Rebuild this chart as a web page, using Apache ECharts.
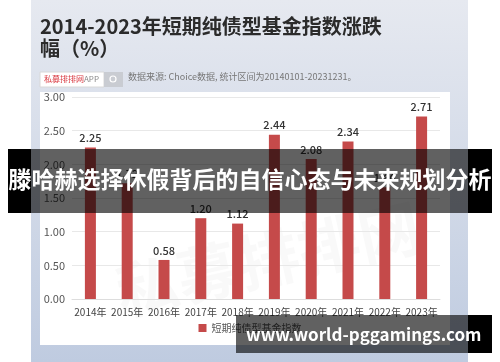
<!DOCTYPE html>
<html style="height: 100%">
<head>
<meta charset="utf-8">
</head>
<body style="width:500px;height:362px;margin:0;background:#fff">
<div id="container" style="width:500px;height:362px;"></div>
<script type="text/javascript" src="https://cdn.jsdelivr.net/npm/echarts@6/dist/echarts.min.js"></script>
<script type="text/javascript">
var years = ['2014年','2015年','2016年','2017年','2018年','2019年','2020年','2021年','2022年','2023年'];
var values = [2.25, 1.72, 0.58, 1.20, 1.12, 2.44, 2.08, 2.34, 1.66, 2.71];
var seriesName = '短期纯债型基金指数';
var yTicks = [0, 0.5, 1, 1.5, 2, 2.5, 3];

var font = '"Noto Sans CJK SC", "Noto Sans", sans-serif';
var dom = document.getElementById('container');
var myChart = echarts.init(dom);
var option = {
    animation: false,
    backgroundColor: '#fff',
    textStyle: { fontFamily: font },
    legend: {
        data: [seriesName],
        bottom: 24,
        left: 'center',
        itemWidth: 8,
        itemHeight: 8,
        itemGap: 4,
        icon: 'rect',
        textStyle: { fontSize: 10, color: '#555', fontFamily: font }
    },
    grid: { left: 72, right: 60, top: 97, bottom: 63 },
    xAxis: {
        type: 'category',
        data: years,
        axisTick: { show: false },
        axisLine: { lineStyle: { color: '#ddd' } },
        axisLabel: { color: '#444', fontSize: 10, margin: 8, interval: 0, fontFamily: font }
    },
    yAxis: {
        type: 'value',
        min: yTicks[0],
        max: yTicks[yTicks.length - 1],
        interval: 0.5,
        axisLabel: {
            color: '#555', fontSize: 11, margin: 7, fontFamily: font,
            formatter: function (v) { return v.toFixed(2); }
        },
        splitLine: { lineStyle: { color: '#e8e8e8' } }
    },
    series: [{
        type: 'bar',
        name: seriesName,
        data: values,
        barWidth: 11,
        itemStyle: { color: '#c54a4a' },
        label: {
            show: true,
            position: 'top',
            distance: 4,
            color: '#333',
            fontSize: 11,
            fontWeight: 500,
            formatter: function (p) { return p.value.toFixed(2); }
        }
    }],
    graphic: [
        // 背景面板
        { type: 'rect', z: -20, shape: { x: 31, y: 0, width: 437, height: 362 },
          style: { fill: new echarts.graphic.LinearGradient(0, 0, 0, 1, [
              { offset: 0, color: '#e6e9f0' }, { offset: 1, color: '#bfcbe0' }]) } },
        { type: 'rect', z: -19, shape: { x: 40, y: 92, width: 410, height: 253 },
          style: { fill: '#fff' } },
        // 标题
        { type: 'text', z: -18, left: 40, top: 16,
          style: { text: '2014-2023年短期纯债型基金指数涨跌', font: 'bold 20px ' + font, fill: '#2b2b2b' } },
        { type: 'text', z: -18, left: 40, top: 38,
          style: { text: '幅（%）', font: 'bold 20px ' + font, fill: '#2b2b2b' } },
        // 来源行
        { type: 'rect', z: -18, shape: { x: 40, y: 72, width: 64, height: 15 },
          style: { fill: '#fff', stroke: '#d8d8d8', lineWidth: 1 } },
        { type: 'text', z: -17, left: 44, top: 74.5,
          style: { text: '{r|私募排排网}{g|APP}', rich: {
              r: { fill: '#d9363e', font: '8px ' + font },
              g: { fill: '#888', font: '8px ' + font } } } },
        { type: 'rect', z: -18, shape: { x: 104, y: 72, width: 19, height: 15 },
          style: { fill: '#c9ccd2' } },
        { type: 'circle', z: -17, shape: { cx: 113, cy: 79, r: 3 },
          style: { fill: 'none', stroke: '#fff', lineWidth: 1.2 } },
        { type: 'text', z: -17, left: 128, top: 72,
          style: { text: '数据来源: Choice数据, 统计区间为20140101-20231231。', font: '9px ' + font, fill: '#777' } },
        // 水印
        { type: 'text', z: -15, left: 110, top: 195, rotation: 0.22,
          style: { text: '私募排排网', font: 'bold 62px ' + font, fill: 'rgba(0,0,0,0.025)' } },
        // 遮罩横幅
        { type: 'rect', z: 50, shape: { x: 31, y: 149, width: 437, height: 64 },
          style: { fill: 'rgba(0,0,0,0.62)' } },
        { type: 'rect', z: 50, shape: { x: 8, y: 149, width: 23, height: 64 },
          style: { fill: '#000' } },
        { type: 'rect', z: 50, shape: { x: 468, y: 149, width: 24, height: 64 },
          style: { fill: '#000' } },
        { type: 'text', z: 51, left: 'center', top: 168,
          style: { text: '滕哈赫选择休假背后的自信心态与未来规划分析', font: 'bold 23px ' + font, fill: '#fff' } },
        { type: 'rect', z: 50, shape: { x: 236, y: 315, width: 232, height: 38 },
          style: { fill: 'rgba(0,0,0,0.62)' } },
        { type: 'rect', z: 50, shape: { x: 468, y: 315, width: 24, height: 38 },
          style: { fill: '#000' } },
        { type: 'text', z: 51, left: 246, top: 326,
          style: { text: 'www.world-pggamings.com', font: 'bold 17px ' + font, fill: '#fff' } }
    ]
};
myChart.setOption(option);
</script>
</body>
</html>
